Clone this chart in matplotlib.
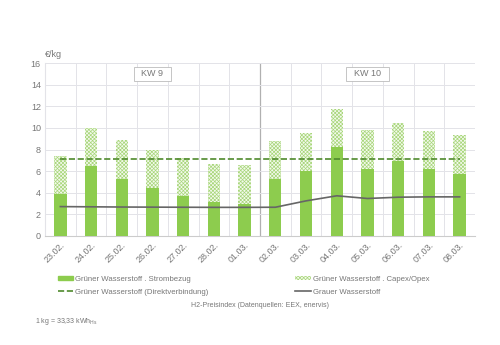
import numpy as np
import matplotlib.pyplot as plt

## Data:
dates = ['23.02.', '24.02.', '25.02.', '26.02.', '27.02.', '28.02.', '01.03.',
         '02.03.', '03.03.', '04.03.', '05.03.', '06.03.', '07.03.', '08.03.']
strombezug = [3.87, 6.44, 5.26, 4.40, 3.72, 3.10, 3.00,
              5.23, 5.98, 8.24, 6.22, 6.93, 6.19, 5.76]
gesamt = [7.43, 10.0, 8.88, 7.96, 7.21, 6.66, 6.56,
          8.82, 9.57, 11.8, 9.81, 10.46, 9.75, 9.35]
capex_opex = [g - s for g, s in zip(gesamt, strombezug)]
direkt = [7.15] * len(dates)
grau = [2.72, 2.70, 2.68, 2.67, 2.66, 2.65, 2.65,
        2.66, 3.25, 3.72, 3.47, 3.59, 3.62, 3.62]
weeks = ['KW 9', 'KW 10']

green = '#8dcc4e'
hatch_green = '#a8d67a'
dark_green = '#4f8a2c'
grey = '#666666'
txt = '#777777'

plt.rcParams['font.family'] = ['Liberation Sans', 'DejaVu Sans']
plt.rcParams['hatch.linewidth'] = 0.5
fig = plt.figure(figsize=(5, 3.45), dpi=100)
ax = fig.add_axes([0.09, 0.316, 0.86, 0.501])

x = np.arange(len(dates))
ax.bar(x, strombezug, width=0.4, color=green, zorder=3)
ax.bar(x, capex_opex, width=0.4, bottom=strombezug, color='#f4faee',
       edgecolor=hatch_green, hatch='xxxxxxxxx', linewidth=0, zorder=3)
ax.plot(x, direkt, color=dark_green, linestyle='--', linewidth=1.2, zorder=4)
ax.plot(x, grau, color=grey, linewidth=1.2, zorder=4)

ax.set_xlim(-0.5, len(dates) - 0.5)
ax.set_ylim(0, 16)
ax.set_yticks(range(0, 17, 2))
ax.set_xticks(x)
ax.set_xticklabels(dates, rotation=45, ha='right', rotation_mode='anchor')
ax.tick_params(axis='both', labelsize=6.5, colors=txt, length=0, pad=3)

# grid: horizontal lines + category boundaries
ax.grid(axis='y', color='#e3e3e8', linewidth=0.7, zorder=0)
for b in np.arange(0.5, len(dates) - 0.5):
    ax.axvline(b, color='#e3e3e8', linewidth=0.7, zorder=0)
ax.axvline(6.5, color='#b0b0b0', linewidth=0.9, zorder=1)
for s in ['top', 'right']:
    ax.spines[s].set_visible(False)
ax.spines['left'].set_color('#e3e3e8')
ax.spines['bottom'].set_color('#cccccc')

# week labels
for i, w in enumerate(weeks):
    ax.text(3 + 7 * i, 15.0, '  ' + w + '  ', ha='center', va='center', fontsize=6.5, color=txt,
            bbox=dict(boxstyle='square,pad=0.3', facecolor='white', edgecolor='#bbbbbb', linewidth=0.6),
            zorder=5)

fig.text(0.09, 0.835, '€/kg', fontsize=6.5, color=txt)

# legend
h1 = plt.Rectangle((0, 0), 1, 1, color=green)
h2 = plt.Rectangle((0, 0), 1, 1, facecolor='#f4faee', edgecolor=hatch_green, hatch='xxxxxxxxx', linewidth=0)
h3 = plt.Line2D([], [], color=dark_green, linestyle='--', linewidth=1.2)
h4 = plt.Line2D([], [], color=grey, linewidth=1.2)
leg = fig.legend([h1, h3, h2, h4],
                 ['Grüner Wasserstoff . Strombezug', 'Grüner Wasserstoff (Direktverbindung)',
                  'Grüner Wasserstoff . Capex/Opex', 'Grauer Wasserstoff'],
                 ncol=2, loc='upper left', bbox_to_anchor=(0.108, 0.212), frameon=False,
                 fontsize=5.6, handlelength=2.0, handleheight=0.5, handletextpad=0.2,
                 columnspacing=11.2, labelspacing=0.75, borderpad=0)
for t in leg.get_texts():
    t.set_color(txt)

fig.text(0.52, 0.11, 'H2-Preisindex (Datenquellen: EEX, enervis)', ha='center',
         fontsize=5, color=txt)
fig.text(0.07, 0.065, '1 kg = 33,33 kWh$_{\\mathrm{Hs}}$', fontsize=5, color=txt)

fig.savefig('out.png', dpi=100)
